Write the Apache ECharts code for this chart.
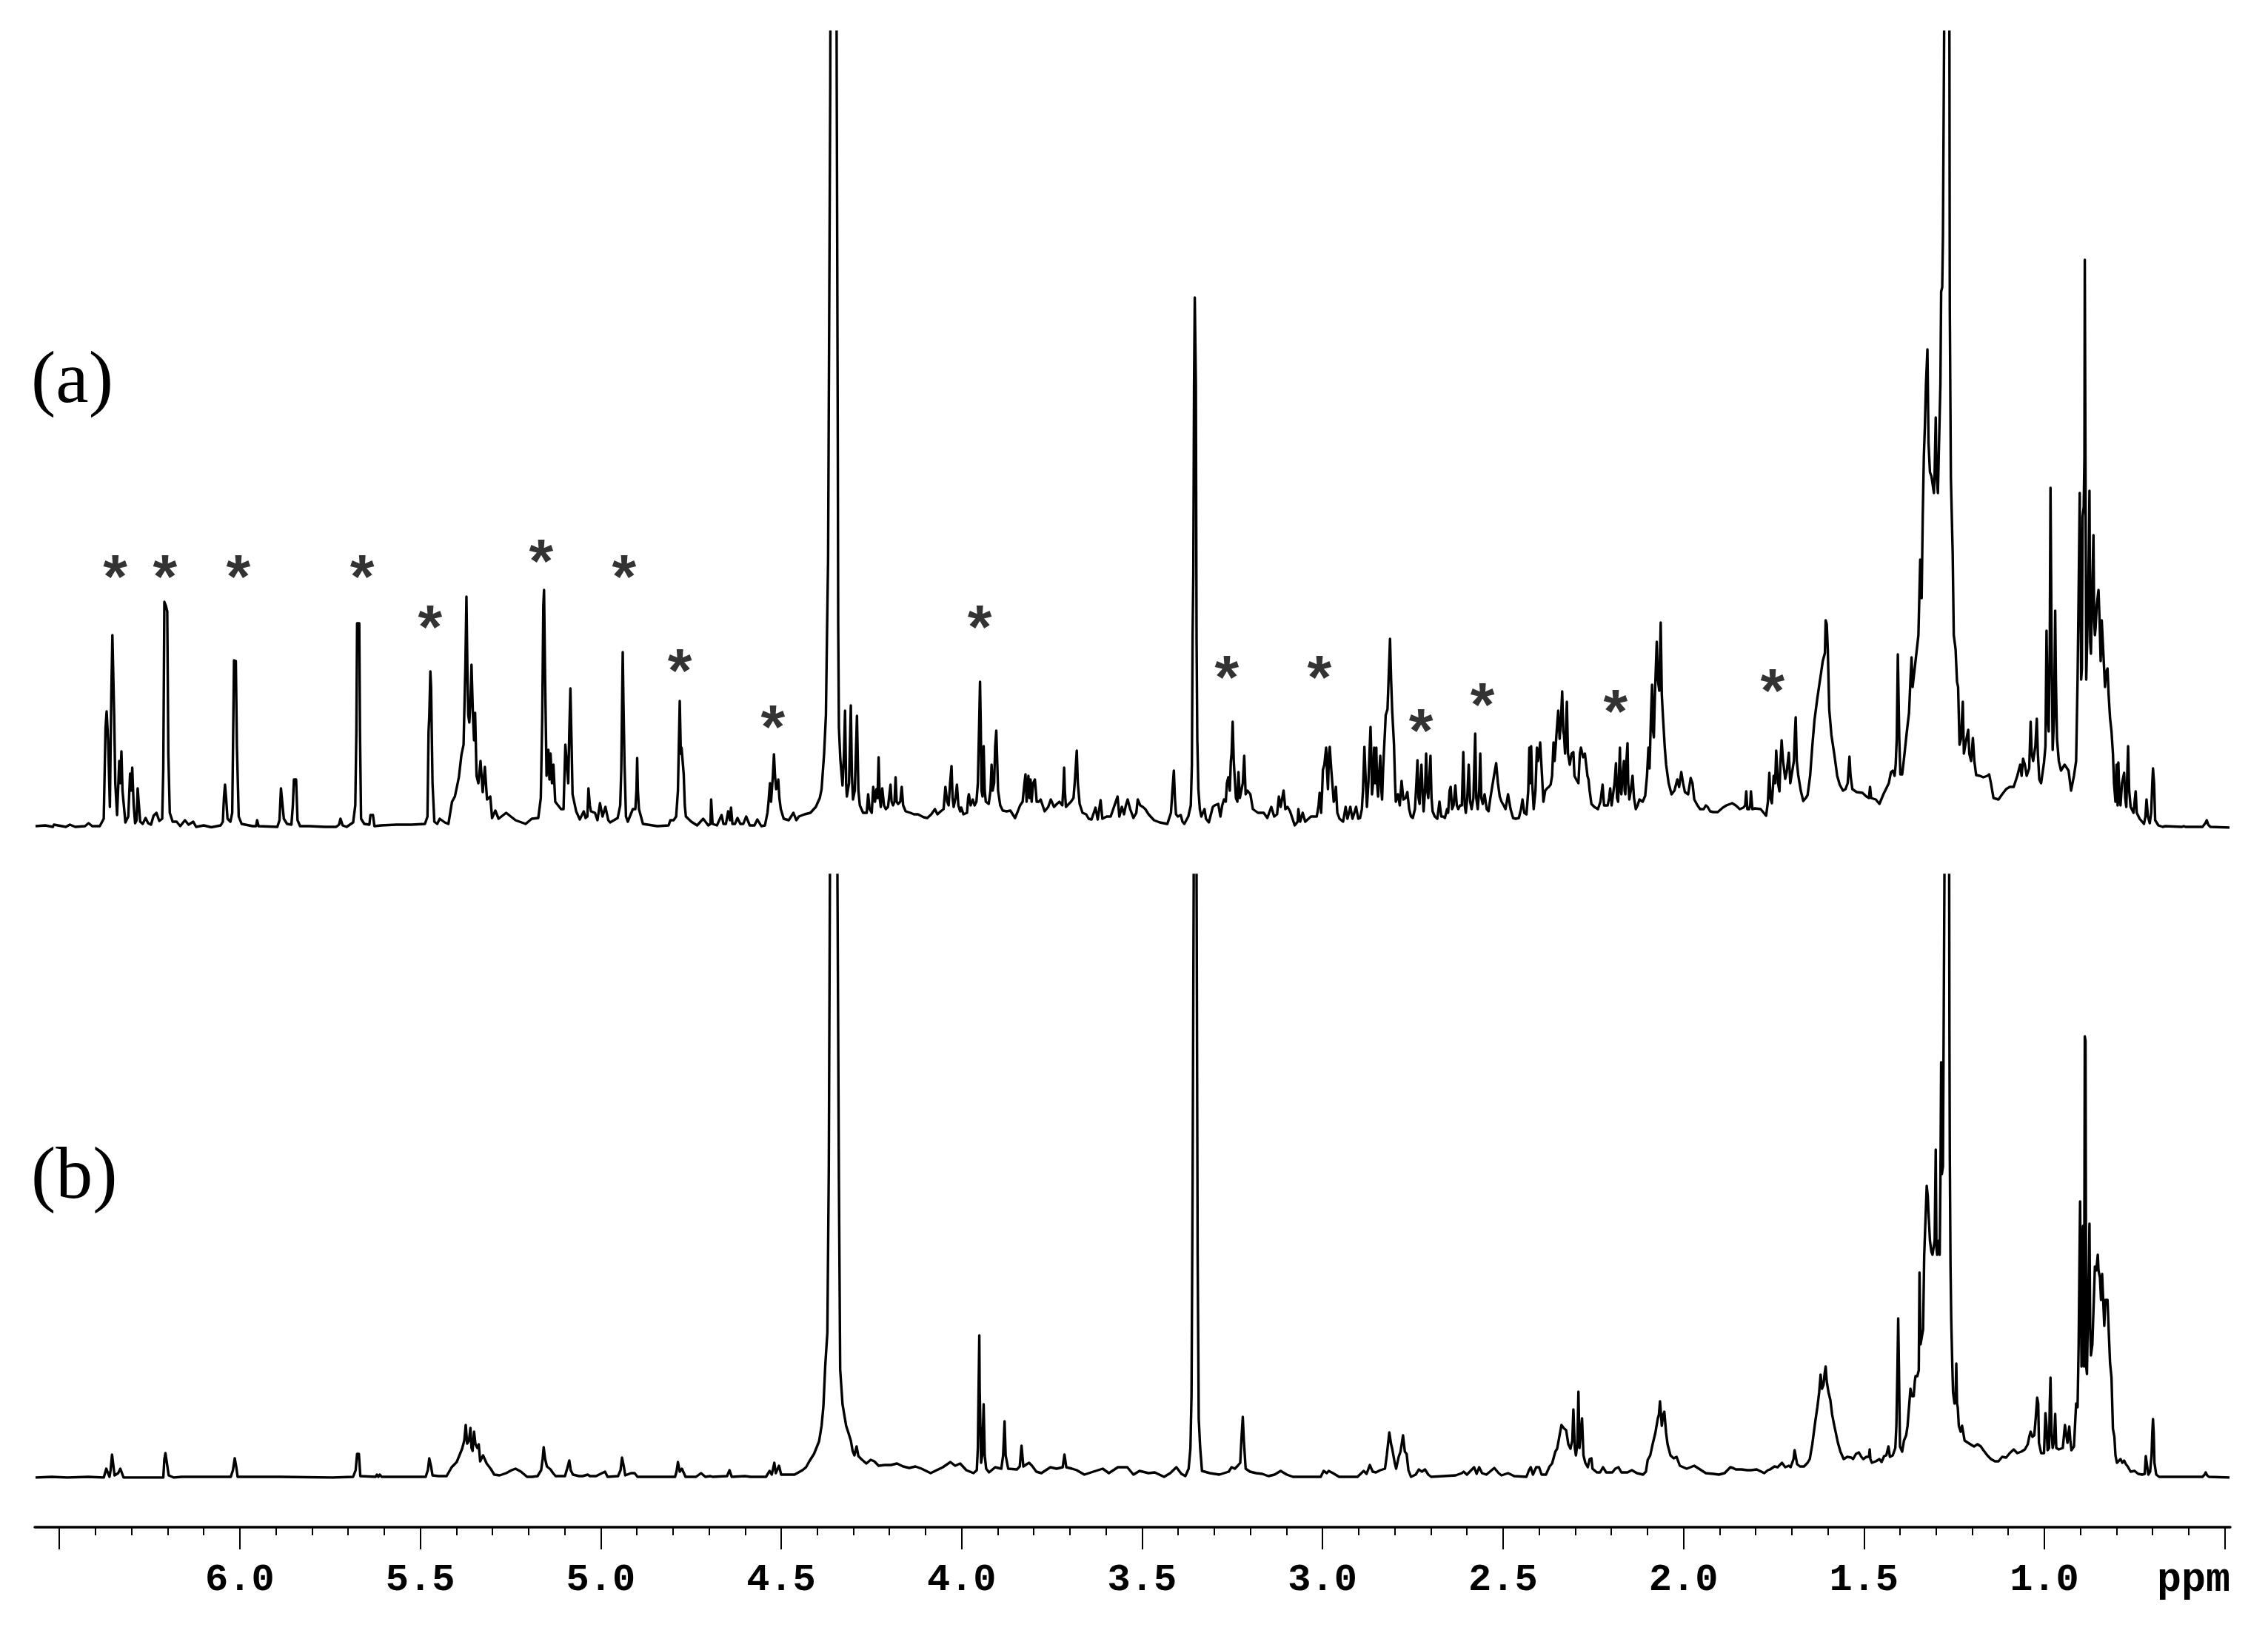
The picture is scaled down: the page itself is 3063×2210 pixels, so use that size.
<!DOCTYPE html>
<html>
<head>
<meta charset="utf-8">
<style>html,body{margin:0;padding:0;background:#fff}#c{width:3063px;height:2210px}</style>
<script src="https://cdn.jsdelivr.net/npm/echarts@6/dist/echarts.min.js"></script>
</head>
<body>
<div id="c"></div>
<script>
// Spectrum (a): [ppm, intensity]
const specA1 = [[6.566,2],[6.539,3],[6.518,1],[6.515,4],[6.482,1],[6.471,4],[6.456,1],[6.429,2],[6.419,6],[6.409,2],[6.388,2],[6.377,12],[6.372,135],[6.369,157],[6.365,120],[6.360,28],[6.356,180],[6.353,260],[6.350,262],[6.348,150],[6.345,60],[6.340,17],[6.334,90],[6.331,60],[6.328,103],[6.325,50],[6.317,7],[6.309,15],[6.304,73],[6.301,50],[6.298,81],[6.294,30],[6.290,6],[6.286,10],[6.283,53],[6.280,53],[6.276,8],[6.269,5],[6.261,13],[6.254,6],[6.246,4],[6.239,16],[6.231,20],[6.223,9],[6.215,12],[6.212,80],[6.209,305],[6.205,300],[6.201,292],[6.198,100],[6.194,20],[6.186,8],[6.175,8],[6.165,2],[6.152,10],[6.142,4],[6.129,8],[6.121,1],[6.100,3],[6.079,0.5],[6.053,3],[6.047,8],[6.044,40],[6.041,58],[6.038,40],[6.034,12],[6.026,8],[6.021,20],[6.019,100],[6.016,226],[6.011,225],[6.008,110],[6.003,15],[5.995,5],[5.964,2],[5.955,2],[5.952,10],[5.948,2],[5.896,1],[5.890,10],[5.886,53],[5.882,55],[5.878,12],[5.869,5],[5.857,4],[5.853,30],[5.850,65],[5.844,65],[5.840,10],[5.833,2],[5.807,2],[5.765,1],[5.733,1],[5.725,4],[5.721,12],[5.715,3],[5.704,1],[5.686,7],[5.680,30],[5.677,130],[5.675,276],[5.669,276],[5.667,130],[5.664,12],[5.655,5],[5.641,4],[5.638,17],[5.631,17],[5.627,2],[5.608,3],[5.566,4],[5.524,4],[5.487,5],[5.480,15],[5.477,130],[5.475,150],[5.472,211],[5.470,190],[5.466,60],[5.461,8],[5.453,5],[5.446,12],[5.432,7],[5.422,5],[5.412,35],[5.404,42],[5.393,68],[5.386,98],[5.380,112],[5.375,218],[5.372,312],[5.369,200],[5.367,152],[5.364,142],[5.361,170],[5.358,220],[5.354,152],[5.351,118],[5.348,155],[5.344,70],[5.339,60],[5.333,90],[5.327,48],[5.321,82],[5.315,38],[5.306,42],[5.301,13],[5.292,23],[5.283,12],[5.262,20],[5.236,10],[5.208,5],[5.191,12],[5.173,13],[5.166,40],[5.162,150],[5.159,300],[5.157,321],[5.154,200],[5.150,70],[5.147,100],[5.145,105],[5.142,65],[5.139,100],[5.135,60],[5.131,85],[5.126,35]];
const specA2 = [[5.110,25],[5.103,25],[5.098,112],[5.094,112],[5.090,60],[5.087,130],[5.084,188],[5.081,120],[5.078,45],[5.068,22],[5.058,11],[5.047,22],[5.042,13],[5.037,15],[5.034,53],[5.030,30],[5.027,22],[5.016,20],[5.009,10],[5.002,33],[4.995,15],[4.987,28],[4.979,10],[4.974,7],[4.953,13],[4.946,30],[4.943,78],[4.941,160],[4.939,237],[4.937,170],[4.934,85],[4.930,15],[4.925,8],[4.911,25],[4.904,25],[4.901,50],[4.899,94],[4.897,50],[4.894,25],[4.883,5],[4.843,2],[4.812,3],[4.807,10],[4.798,10],[4.791,15],[4.786,50],[4.784,100],[4.781,171],[4.778,100],[4.776,108],[4.773,108],[4.770,72],[4.767,30],[4.764,15],[4.749,8],[4.733,3],[4.716,12],[4.702,3],[4.696,5],[4.694,38],[4.690,5],[4.678,3],[4.665,17],[4.660,5],[4.653,5],[4.647,22],[4.642,10],[4.639,27],[4.635,5],[4.628,5],[4.621,13],[4.613,5],[4.605,5],[4.597,15],[4.587,3],[4.574,3],[4.566,11],[4.555,2],[4.545,3],[4.538,20],[4.535,35],[4.531,60],[4.528,35],[4.525,35],[4.523,70],[4.520,99],[4.517,70],[4.514,52],[4.510,55],[4.508,65],[4.505,40],[4.501,25],[4.493,12],[4.479,10],[4.466,20],[4.458,10],[4.451,15],[4.435,18],[4.419,20],[4.404,28],[4.393,40],[4.388,52],[4.381,100],[4.376,152],[4.373,262],[4.370,362],[4.364,1000],[4.355,3000],[4.346,1000],[4.343,500],[4.342,275],[4.340,135],[4.336,92],[4.330,57],[4.326,100],[4.323,158],[4.320,60],[4.318,42],[4.312,60],[4.307,165],[4.304,70],[4.301,38],[4.296,50],[4.293,100],[4.290,151],[4.286,50],[4.282,30],[4.273,20],[4.263,20],[4.259,45],[4.255,25],[4.249,20],[4.245,55],[4.240,35],[4.236,52],[4.233,40],[4.230,95],[4.227,40],[4.224,28],[4.220,53],[4.215,30],[4.210,25],[4.204,28],[4.197,58],[4.194,35],[4.190,30],[4.186,35],[4.183,68],[4.180,35],[4.176,32],[4.170,35],[4.166,55],[4.162,30],[4.155,22],[4.142,20],[4.132,18],[4.121,18],[4.105,14],[4.095,13],[4.084,18],[4.074,25],[4.067,18],[4.058,22],[4.050,25],[4.045,55],[4.040,35],[4.036,30],[4.032,60],[4.028,83],[4.025,40],[4.022,28],[4.017,40],[4.013,58],[4.009,30],[4.004,22],[4.001,27],[3.995,18],[3.985,20],[3.982,40],[3.980,45],[3.975,30],[3.969,38],[3.964,30],[3.959,35],[3.955,60],[3.951,150],[3.949,197],[3.947,140],[3.945,50],[3.942,42],[3.939,110],[3.936,50],[3.933,35],[3.925,32],[3.920,50],[3.917,85],[3.914,50],[3.910,60],[3.907,110],[3.904,131],[3.902,100],[3.899,50],[3.893,30],[3.886,23],[3.875,22],[3.865,23],[3.852,13],[3.846,20],[3.838,30],[3.831,35],[3.826,60],[3.823,72],[3.820,35],[3.815,70],[3.812,40],[3.809,65],[3.806,35],[3.802,60],[3.797,65],[3.792,35],[3.786,35],[3.781,38],[3.770,22],[3.760,28],[3.753,38],[3.744,28],[3.736,32],[3.729,35],[3.721,30],[3.718,55],[3.716,81],[3.714,50],[3.711,28],[3.697,35],[3.690,40],[3.686,65],[3.681,104],[3.678,60],[3.673,32],[3.665,20],[3.655,18],[3.648,12],[3.640,11],[3.629,27],[3.623,11],[3.615,37],[3.610,12],[3.598,15],[3.587,15]];
const specA3 = [[3.568,42],[3.563,15],[3.556,28],[3.550,18],[3.545,30],[3.540,38],[3.533,25],[3.524,13],[3.516,20],[3.512,38],[3.505,30],[3.498,28],[3.491,25],[3.482,18],[3.467,10],[3.451,7],[3.430,5],[3.420,20],[3.416,50],[3.412,77],[3.409,40],[3.406,18],[3.401,15],[3.393,17],[3.388,8],[3.383,5],[3.372,15],[3.365,30],[3.362,85],[3.360,260],[3.358,345],[3.356,600],[3.354,716],[3.351,600],[3.349,252],[3.347,120],[3.344,52],[3.340,25],[3.336,15],[3.327,25],[3.323,12],[3.315,7],[3.304,28],[3.299,30],[3.289,32],[3.283,15],[3.278,30],[3.273,38],[3.268,35],[3.265,60],[3.261,68],[3.257,50],[3.254,90],[3.252,100],[3.249,143],[3.246,90],[3.244,92],[3.240,40],[3.236,35],[3.233,75],[3.229,40],[3.225,50],[3.221,60],[3.217,97],[3.213,45],[3.208,50],[3.200,45],[3.193,25],[3.189,25],[3.179,20],[3.163,20],[3.153,13],[3.142,28],[3.134,15],[3.126,18],[3.121,42],[3.116,28],[3.108,50],[3.103,25],[3.097,28],[3.090,22],[3.077,3],[3.069,8],[3.067,25],[3.062,8],[3.055,20],[3.048,8],[3.032,15],[3.016,15],[3.011,30],[3.008,47],[3.004,20],[3.001,50],[2.999,78],[2.995,85],[2.990,108],[2.988,80],[2.985,52],[2.982,100],[2.980,109],[2.976,80],[2.969,35],[2.966,40],[2.963,55],[2.959,20],[2.953,12],[2.943,8],[2.936,28],[2.931,12],[2.923,28],[2.917,12],[2.907,28],[2.901,12],[2.896,13],[2.891,25],[2.888,50],[2.884,109],[2.880,60],[2.877,28],[2.873,60],[2.870,100],[2.867,136],[2.865,100],[2.863,45],[2.860,60],[2.857,108],[2.854,60],[2.851,108],[2.849,60],[2.846,42],[2.843,75],[2.840,97],[2.837,50],[2.835,38],[2.832,80],[2.830,102],[2.827,130],[2.825,152],[2.820,160],[2.817,200],[2.813,255],[2.810,200],[2.807,158],[2.802,112],[2.799,60],[2.797,35],[2.791,45],[2.786,30],[2.781,63],[2.776,38],[2.770,40],[2.765,48],[2.760,25],[2.755,15],[2.750,13],[2.744,25],[2.740,60],[2.737,91],[2.734,40],[2.731,32],[2.729,60],[2.726,85],[2.722,40],[2.720,22],[2.716,50],[2.713,100],[2.710,50],[2.707,40],[2.701,97],[2.698,40],[2.695,22],[2.689,15],[2.682,12],[2.676,35],[2.671,15],[2.666,15],[2.661,13],[2.655,25],[2.652,20],[2.648,50],[2.645,55],[2.641,25],[2.637,30],[2.632,57],[2.628,30],[2.624,25],[2.619,30],[2.614,30],[2.610,102],[2.606,30],[2.603,20],[2.599,40],[2.595,85],[2.591,35],[2.587,25],[2.582,40],[2.577,127],[2.574,40],[2.570,25],[2.566,50],[2.563,100],[2.560,40],[2.556,32],[2.551,45],[2.545,25],[2.540,22],[2.535,40],[2.530,55],[2.525,70],[2.519,87],[2.514,60],[2.509,42],[2.504,35],[2.498,30],[2.493,25],[2.486,45],[2.479,25],[2.472,13],[2.465,12],[2.456,13],[2.450,25],[2.446,38],[2.441,20],[2.435,18],[2.430,50],[2.427,108],[2.425,60],[2.422,110],[2.419,60],[2.415,25],[2.410,50],[2.406,108],[2.403,90],[2.400,100],[2.397,115],[2.393,80],[2.388,35],[2.383,50],[2.378,53],[2.373,55],[2.368,58],[2.364,70],[2.360,115],[2.357,90],[2.352,125],[2.347,158],[2.343,120],[2.339,150],[2.336,184],[2.333,130],[2.331,125],[2.328,100],[2.323,170],[2.320,100],[2.315,85],[2.310,100],[2.305,102],[2.302,70],[2.297,65],[2.291,60],[2.287,100],[2.284,108],[2.278,95],[2.273,100],[2.270,98],[2.266,70],[2.263,65],[2.260,50],[2.255,32],[2.247,28],[2.237,25],[2.230,35],[2.224,58],[2.220,30],[2.216,32],[2.210,30],[2.206,40],[2.203,53],[2.199,30],[2.195,32],[2.191,60],[2.187,87],[2.184,40],[2.181,35],[2.178,80],[2.176,108],[2.174,50],[2.172,45],[2.169,70],[2.165,90],[2.163,50],[2.161,45],[2.158,90],[2.155,114],[2.153,60],[2.150,38],[2.146,50],[2.141,70],[2.137,40],[2.132,25],[2.127,30],[2.122,38],[2.113,35],[2.106,43],[2.101,70],[2.097,108],[2.094,80],[2.090,150],[2.087,193],[2.084,130],[2.082,122],[2.079,180],[2.074,251],[2.071,200],[2.067,185],[2.063,277],[2.060,180],[2.057,152],[2.052,110],[2.048,85],[2.041,60],[2.033,45],[2.025,50],[2.017,65],[2.012,55],[2.006,75],[2.001,60],[1.996,48],[1.987,45],[1.980,67]];
const specA4 = [[1.975,60],[1.970,38],[1.961,30],[1.954,25],[1.944,25],[1.938,30],[1.933,28],[1.926,22],[1.917,21],[1.905,21],[1.891,27],[1.881,30],[1.865,33],[1.855,30],[1.844,25],[1.834,27],[1.829,30],[1.826,49],[1.823,25],[1.818,25],[1.815,30],[1.813,49],[1.809,25],[1.802,26],[1.786,25],[1.771,16],[1.766,35],[1.762,74],[1.759,40],[1.755,33],[1.750,70],[1.746,60],[1.743,104],[1.738,60],[1.734,49],[1.731,90],[1.728,118],[1.724,90],[1.718,66],[1.714,75],[1.708,101],[1.704,60],[1.700,58],[1.694,90],[1.691,130],[1.689,149],[1.686,90],[1.682,71],[1.675,50],[1.668,36],[1.661,40],[1.656,44],[1.649,70],[1.643,110],[1.637,145],[1.629,175],[1.623,195],[1.619,208],[1.614,225],[1.608,236],[1.606,280],[1.603,275],[1.600,240],[1.596,159],[1.590,125],[1.582,99],[1.574,70],[1.567,58],[1.558,50],[1.551,52],[1.545,60],[1.540,96],[1.537,70],[1.532,52],[1.520,48],[1.504,47],[1.493,42],[1.486,40],[1.483,55],[1.480,40],[1.467,38],[1.457,32],[1.446,45],[1.436,55],[1.431,60],[1.425,75],[1.420,77],[1.415,70],[1.412,85],[1.409,120],[1.406,234],[1.404,234],[1.402,120],[1.399,72],[1.394,72],[1.389,93],[1.381,130],[1.375,155],[1.371,200],[1.368,230],[1.365,190],[1.361,190],[1.357,225],[1.353,225],[1.349,260],[1.346,320],[1.344,362],[1.340,310],[1.337,420],[1.334,500],[1.331,543],[1.328,600],[1.324,646],[1.321,520],[1.317,480],[1.313,475],[1.310,474],[1.306,452],[1.304,480],[1.301,554],[1.299,480],[1.295,452],[1.291,452],[1.288,600],[1.286,724],[1.283,730],[1.281,800],[1.278,1050],[1.274,1400],[1.269,3000],[1.264,1400],[1.262,700],[1.259,472],[1.257,470],[1.254,370],[1.251,260],[1.246,241],[1.242,197],[1.239,190],[1.235,112],[1.231,120],[1.226,170],[1.223,100],[1.220,100],[1.216,120],[1.211,132],[1.208,100],[1.203,90],[1.198,121],[1.194,90],[1.189,71],[1.179,70],[1.169,68],[1.158,70],[1.153,72],[1.148,60],[1.141,40],[1.127,38],[1.117,45],[1.106,52],[1.096,55],[1.085,55],[1.075,70],[1.067,85],[1.063,70],[1.059,93],[1.054,85],[1.049,70],[1.042,80],[1.038,143],[1.035,100],[1.031,90],[1.025,110],[1.021,147],[1.018,100],[1.014,65],[1.009,60],[1.001,88],[0.997,110],[0.994,266],[0.991,150],[0.988,130],[0.985,250],[0.983,459],[0.980,250],[0.977,105],[0.973,150],[0.970,293],[0.968,200],[0.965,120],[0.960,90],[0.954,77],[0.944,85],[0.933,77],[0.926,50],[0.918,70],[0.912,90],[0.908,200],[0.905,320],[0.902,452],[0.900,452],[0.898,200],[0.896,215],[0.894,420],[0.891,433],[0.889,500],[0.888,767],[0.886,767],[0.884,200],[0.882,200],[0.879,300],[0.877,370],[0.875,455],[0.873,250],[0.871,235],[0.867,330],[0.864,395],[0.862,280],[0.860,260],[0.858,270],[0.855,300],[0.852,300],[0.850,321],[0.847,280],[0.844,225],[0.841,280],[0.837,282],[0.835,220],[0.832,190],[0.829,210],[0.825,215],[0.822,180],[0.818,148],[0.814,130],[0.810,100],[0.807,60],[0.803,35],[0.800,85],[0.797,30],[0.795,88],[0.792,40],[0.789,30],[0.785,60],[0.779,74],[0.776,40],[0.773,28],[0.768,110],[0.765,50],[0.761,28],[0.753,20],[0.747,49],[0.744,20],[0.736,12],[0.724,5],[0.720,15],[0.717,38],[0.713,15],[0.708,6],[0.704,20],[0.701,60],[0.699,80],[0.696,60],[0.693,10],[0.684,3],[0.672,1],[0.665,2],[0.661,1],[0.619,1],[0.614,2],[0.609,1],[0.562,1],[0.554,6],[0.550,10],[0.546,4],[0.540,1],[0.487,0]];

// Spectrum (b): [ppm, intensity]
const specB1 = [[6.566,0],[6.521,1],[6.478,0],[6.420,1],[6.377,0],[6.374,5],[6.370,12],[6.366,11],[6.361,1],[6.358,10],[6.354,31],[6.351,30],[6.347,3],[6.337,6],[6.331,12],[6.327,10],[6.322,0],[6.276,0],[6.212,0],[6.209,25],[6.206,33],[6.202,33],[6.197,3],[6.183,0],[6.161,1],[6.025,1],[6.019,10],[6.014,26],[6.010,15],[6.006,1],[5.888,1],[5.744,0],[5.686,1],[5.679,10],[5.675,32],[5.670,32],[5.666,2],[5.624,1],[5.620,4],[5.616,1],[5.612,4],[5.607,1],[5.485,1],[5.479,10],[5.475,26],[5.470,15],[5.466,3],[5.449,2],[5.427,2],[5.413,14],[5.399,21],[5.384,39],[5.378,50],[5.374,71],[5.370,46],[5.365,50],[5.361,67],[5.358,40],[5.355,36],[5.351,62],[5.347,45],[5.342,40],[5.338,45],[5.334,22],[5.326,30],[5.322,28],[5.316,19],[5.305,12],[5.295,4],[5.280,3],[5.262,6],[5.247,10],[5.236,12],[5.221,8],[5.204,1],[5.190,1],[5.175,2],[5.165,10],[5.161,25],[5.158,41],[5.154,25],[5.149,15],[5.139,11],[5.132,6],[5.125,2],[5.099,2],[5.093,12],[5.087,23],[5.083,10],[5.077,4],[5.060,2],[5.056,4],[5.050,2],[5.036,4],[5.030,2],[5.013,2],[4.988,8],[4.981,1],[4.952,2],[4.945,10],[4.941,27],[4.936,15],[4.932,3],[4.916,6],[4.906,6],[4.898,1],[4.830,1],[4.794,1],[4.790,8],[4.786,21],[4.781,8],[4.775,12],[4.771,10],[4.765,1],[4.736,1],[4.722,6],[4.710,1],[4.696,2],[4.690,1],[4.650,2],[4.643,10],[4.637,1],[4.600,2],[4.585,1],[4.542,1],[4.532,9],[4.526,4],[4.519,20],[4.515,6],[4.506,16],[4.500,4],[4.485,4],[4.463,4],[4.441,10],[4.431,14],[4.422,22]];
const specB2 = [[4.409,32],[4.395,49],[4.388,70],[4.383,96],[4.378,150],[4.372,196],[4.368,420],[4.365,800],[4.355,2600],[4.344,800],[4.340,400],[4.3365,146],[4.330,99],[4.320,70],[4.314,61],[4.307,50],[4.302,36],[4.297,30],[4.291,42],[4.286,29],[4.278,25],[4.264,19],[4.252,24],[4.242,22],[4.230,16],[4.213,17],[4.196,17],[4.179,19],[4.162,15],[4.145,13],[4.128,15],[4.111,12],[4.086,6],[4.069,10],[4.052,14],[4.031,21],[4.018,16],[4.004,19],[3.987,10],[3.967,6],[3.958,10],[3.955,40],[3.953,120],[3.951,192],[3.950,120],[3.946,20],[3.943,30],[3.939,99],[3.936,30],[3.932,12],[3.924,7],[3.907,14],[3.890,12],[3.885,30],[3.881,76],[3.878,30],[3.871,12],[3.847,11],[3.839,15],[3.834,43],[3.829,15],[3.820,18],[3.813,20],[3.805,16],[3.793,8],[3.779,6],[3.754,14],[3.737,12],[3.720,14],[3.715,31],[3.710,14],[3.694,12],[3.681,10],[3.660,4],[3.635,8],[3.609,12],[3.592,6],[3.567,14],[3.541,14],[3.524,4],[3.507,9],[3.482,6],[3.465,7],[3.439,1],[3.422,6],[3.405,14],[3.391,5],[3.380,2],[3.371,12],[3.366,40],[3.363,112],[3.360,400],[3.357,800],[3.353,3000],[3.349,800],[3.346,300],[3.343,79],[3.339,40],[3.334,9],[3.312,6],[3.286,4],[3.260,8],[3.252,14],[3.243,12],[3.235,16],[3.228,20],[3.225,50],[3.221,82],[3.218,50],[3.213,12],[3.201,8],[3.184,6],[3.167,5],[3.150,2],[3.133,4],[3.116,9],[3.099,4],[3.082,1],[3.005,1],[2.997,9],[2.988,6],[2.983,9],[2.971,6],[2.954,1],[2.903,1],[2.886,9],[2.878,5],[2.869,17],[2.861,8],[2.852,7],[2.840,10],[2.827,12],[2.822,30],[2.815,61],[2.810,45],[2.807,39],[2.800,20],[2.796,12],[2.789,28],[2.784,35],[2.777,57],[2.772,35],[2.767,32],[2.762,10],[2.755,1],[2.742,4],[2.733,11],[2.725,8],[2.716,11],[2.707,4],[2.699,1],[2.665,2],[2.631,3],[2.614,6],[2.609,8],[2.600,4],[2.580,14],[2.573,5],[2.566,14],[2.558,6],[2.546,4],[2.524,13],[2.512,6],[2.504,3],[2.486,6],[2.469,2],[2.435,1],[2.428,10],[2.423,14],[2.417,4],[2.408,14],[2.400,14],[2.393,4],[2.381,4],[2.371,15],[2.364,19],[2.355,35],[2.350,39],[2.344,55],[2.338,71],[2.332,67],[2.325,64],[2.319,45],[2.313,39],[2.308,50],[2.305,92],[2.301,40],[2.298,30],[2.294,45],[2.291,116],[2.288,40],[2.284,40],[2.281,80],[2.277,30],[2.272,20],[2.265,14],[2.260,25],[2.255,26],[2.252,12],[2.240,7],[2.231,7],[2.223,14],[2.214,7],[2.197,7],[2.189,12],[2.180,14],[2.172,7],[2.155,7],[2.143,10],[2.129,6],[2.112,4],[2.104,8],[2.099,24],[2.092,30],[2.085,46],[2.078,60],[2.071,80],[2.068,85],[2.065,103],[2.060,70],[2.056,85],[2.053,89],[2.048,60],[2.044,45],[2.036,30],[2.027,26],[2.019,28],[2.010,16]];
const specB3 = [[1.991,12],[1.970,16],[1.954,11],[1.938,6],[1.917,5],[1.902,4],[1.886,6],[1.870,14],[1.863,13],[1.855,11],[1.839,11],[1.823,10],[1.813,10],[1.797,11],[1.776,6],[1.766,10],[1.760,11],[1.748,15],[1.739,14],[1.727,20],[1.718,14],[1.708,16],[1.703,14],[1.695,25],[1.692,37],[1.689,37],[1.685,18],[1.677,15],[1.666,15],[1.656,20],[1.650,25],[1.643,45],[1.635,75],[1.629,95],[1.624,115],[1.620,139],[1.616,120],[1.612,125],[1.609,140],[1.606,150],[1.603,130],[1.598,115],[1.593,105],[1.588,85],[1.582,70],[1.572,47],[1.565,35],[1.556,25],[1.546,28],[1.535,27],[1.530,25],[1.522,32],[1.514,34],[1.507,28],[1.502,25],[1.493,28],[1.486,28],[1.484,38],[1.482,25],[1.478,20],[1.467,22],[1.457,25],[1.451,21],[1.444,29],[1.438,30],[1.434,30],[1.432,42],[1.428,28],[1.420,30],[1.413,40],[1.410,70],[1.407,150],[1.405,215],[1.403,150],[1.400,42],[1.394,35],[1.389,50],[1.383,57],[1.379,70],[1.377,83],[1.373,85],[1.371,120],[1.367,110],[1.362,110],[1.359,130],[1.357,137],[1.352,137],[1.348,145],[1.346,277],[1.343,180],[1.339,180],[1.336,200],[1.333,299],[1.330,340],[1.326,394],[1.323,380],[1.321,357],[1.317,320],[1.313,305],[1.310,301],[1.306,301],[1.304,320],[1.301,443],[1.299,310],[1.297,301],[1.293,320],[1.290,301],[1.288,400],[1.286,561],[1.284,410],[1.281,420],[1.277,800],[1.274,1200],[1.269,2600],[1.265,1200],[1.263,600],[1.262,435],[1.260,285],[1.258,212],[1.255,150],[1.253,115],[1.249,100],[1.246,110],[1.244,154],[1.242,100],[1.240,95],[1.237,70],[1.232,62],[1.228,70],[1.224,71],[1.221,50],[1.218,49],[1.205,45],[1.195,42],[1.185,45],[1.176,42],[1.169,37],[1.158,30],[1.148,25],[1.137,22],[1.127,22],[1.117,28],[1.106,27],[1.096,33],[1.085,38],[1.075,33],[1.064,35],[1.054,38],[1.046,45],[1.042,55],[1.038,62],[1.033,55],[1.028,57],[1.024,80],[1.020,108],[1.017,100],[1.015,47],[1.009,33],[1.001,33],[0.999,60],[0.997,87],[0.994,70],[0.991,37],[0.987,40],[0.985,100],[0.983,135],[0.980,60],[0.977,40],[0.973,50],[0.970,86],[0.967,40],[0.960,38],[0.949,40],[0.946,55],[0.943,71],[0.940,60],[0.936,47],[0.933,60],[0.931,69],[0.928,50],[0.925,37],[0.918,42],[0.912,100],[0.908,95],[0.905,180],[0.903,280],[0.901,373],[0.899,250],[0.897,150],[0.895,320],[0.893,340],[0.890,150],[0.888,596],[0.886,590],[0.884,150],[0.882,140],[0.879,230],[0.877,280],[0.875,343],[0.873,200],[0.871,165],[0.867,180],[0.864,225],[0.860,285],[0.856,280],[0.852,301],[0.850,280],[0.846,270],[0.843,240],[0.840,275],[0.837,240],[0.834,205],[0.831,240],[0.825,240],[0.821,190],[0.818,155],[0.814,135],[0.810,66],[0.806,55],[0.803,30],[0.799,20],[0.789,25],[0.784,20],[0.779,23],[0.774,18],[0.769,15],[0.761,8],[0.750,9],[0.740,5],[0.729,4],[0.722,5],[0.719,29],[0.716,28],[0.712,4],[0.707,8],[0.703,30],[0.701,60],[0.699,79],[0.697,60],[0.695,20],[0.690,4],[0.682,1],[0.672,1],[0.619,1],[0.562,1],[0.556,4],[0.553,7],[0.549,3],[0.544,1],[0.487,0]];

// Marks: asterisks above peaks of spectrum (a), [ppm, height]
const asterisks = [[6.345,353],[6.207,353],[6.004,353],[5.661,353],[5.473,285],[5.165,374],[4.935,353],[4.781,226],[4.523,150],[3.950,285],[3.265,217],[3.009,217],[2.727,145],[2.557,180],[2.188,171],[1.753,199]];

// Axis ticks
const majorTicks = [6.5,6.0,5.5,5.0,4.5,4.0,3.5,3.0,2.5,2.0,1.5,1.0,0.5];
const minorTicks = [6.4,6.3,6.2,6.1,5.9,5.8,5.7,5.6,5.4,5.3,5.2,5.1,4.9,4.8,4.7,4.6,4.4,4.3,4.2,4.1,3.9,3.8,3.7,3.6,3.4,3.3,3.2,3.1,2.9,2.8,2.7,2.6,2.4,2.3,2.2,2.1,1.9,1.8,1.7,1.6,1.4,1.3,1.2,1.1,0.9,0.8,0.7,0.6];
const tickLabels = [6.0,5.5,5.0,4.5,4.0,3.5,3.0,2.5,2.0,1.5,1.0];
const panelLabels = ['(a)','(b)'];
const unitLabel = 'ppm';

const specA = [].concat(specA1, specA2, specA3, specA4);
const specB = [].concat(specB1, specB2, specB3);

const X_MIN = 0.485, X_MAX = 6.568;
const hiddenX = (i) => ({type:'value',gridIndex:i,min:X_MIN,max:X_MAX,inverse:true,show:false});
const hiddenY = (i,max) => ({type:'value',gridIndex:i,min:0,max:max,show:false});
const lineS = (x,data) => ({type:'line',xAxisIndex:x,yAxisIndex:x,data:data,showSymbol:false,symbol:'none',sampling:null,smooth:false,silent:true,animation:false,
  lineStyle:{color:'#000',width:3.4,join:'round'}});

const chart = echarts.init(document.getElementById('c'), null, {renderer:'canvas'});
chart.setOption({
  animation:false,
  backgroundColor:'#fff',
  grid:[
    {left:47,width:2965,top:43,height:1075},
    {left:47,width:2965,top:1182,height:814},
    {left:47,width:2965,top:2062,height:1}
  ],
  xAxis:[
    hiddenX(0),hiddenX(1),
    {type:'value',gridIndex:2,min:X_MIN,max:X_MAX,inverse:true,position:'bottom',
      axisLine:{show:true,onZero:false,lineStyle:{color:'#000',width:3.5}},
      axisTick:{show:true,length:30,lineStyle:{color:'#000',width:2},customValues:majorTicks},
      axisLabel:{show:true,margin:46,color:'#000',fontFamily:'Liberation Mono',fontWeight:'bold',fontSize:52,customValues:tickLabels,formatter:(v)=>v.toFixed(1)},
      splitLine:{show:false}},
    {type:'value',gridIndex:2,min:X_MIN,max:X_MAX,inverse:true,position:'bottom',
      axisLine:{show:false},
      axisTick:{show:true,length:11,lineStyle:{color:'#000',width:2},customValues:minorTicks},
      axisLabel:{show:false},splitLine:{show:false}}
  ],
  yAxis:[hiddenY(0,1075),hiddenY(1,814),hiddenY(2,1),hiddenY(2,1)],
  series:[
    lineS(0,specA),
    lineS(1,specB),
    {type:'scatter',xAxisIndex:0,yAxisIndex:0,data:asterisks,symbolSize:1,itemStyle:{color:'transparent'},silent:true,animation:false,clip:false,
      label:{show:true,position:'inside',formatter:'*',color:'#000',fontFamily:'Liberation Sans',fontWeight:'bold',fontSize:84,offset:[0,20]}}
  ],
  graphic:[
    {type:'text',left:42,top:467,style:{text:panelLabels[0],font:'100px "Liberation Serif"',fill:'#000'}},
    {type:'text',left:42,top:1542,style:{text:panelLabels[1],font:'100px "Liberation Serif"',fill:'#000'}},
    {type:'text',right:51,top:2108,style:{text:unitLabel,font:'bold 55px "Liberation Mono"',fill:'#000'}}
  ]
});
</script>
</body>
</html>
